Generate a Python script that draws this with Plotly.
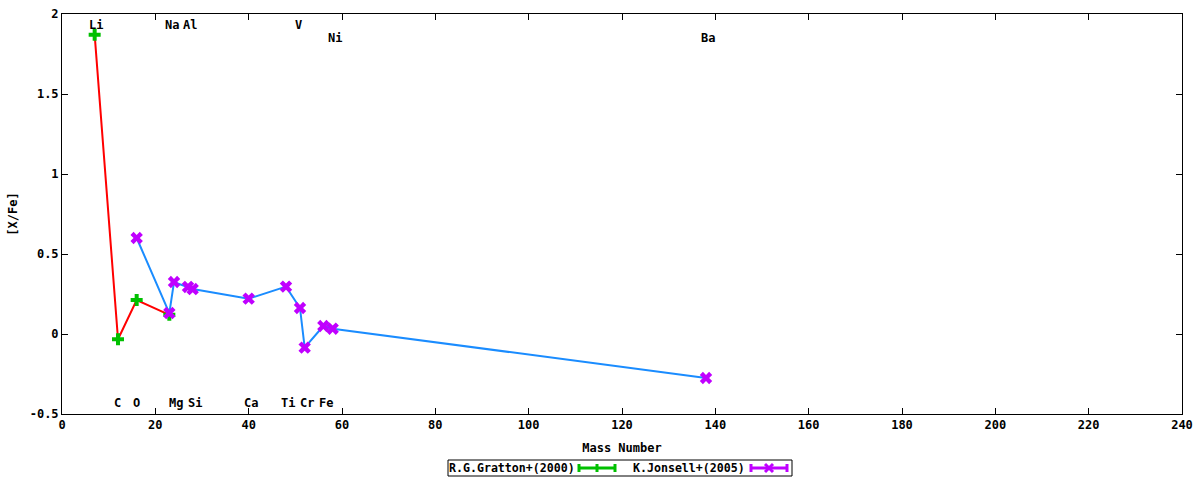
import plotly.graph_objects as go

# Gratton et al. (2000)
gratton_mass = [7, 12, 16, 23]
gratton_xfe = [1.87, -0.033, 0.212, 0.12]

# Jonsell et al. (2005)
jonsell_mass = [16, 23, 24, 27, 28, 40, 48, 51, 52, 56, 58, 138]
jonsell_xfe = [0.60, 0.131, 0.325, 0.294, 0.281, 0.221, 0.296, 0.1625, -0.085, 0.05, 0.033, -0.275]

# element labels
elem_names = ["Li", "Na", "Al", "V", "Ni", "Ba", "C", "O", "Mg", "Si", "Ca", "Ti", "Cr", "Fe"]
elem_x = [7.3, 23.6, 27.4, 50.6, 58.5, 138.4, 11.8, 15.9, 24.4, 28.5, 40.5, 48.4, 52.5, 56.6]
elem_y = [1.93, 1.93, 1.93, 1.93, 1.85, 1.85, -0.43, -0.43, -0.43, -0.43, -0.43, -0.43, -0.43, -0.43]

x_ticks = [0, 20, 40, 60, 80, 100, 120, 140, 160, 180, 200, 220, 240]
y_ticks = [-0.5, 0, 0.5, 1, 1.5, 2]
y_tick_text = ["-0.5", "0", "0.5", "1", "1.5", "2"]

FONT = "DejaVu Sans Mono"
FS = 12
LFS = 11.6
GREEN = "#00c000"
PURPLE = "#c000ff"
RED = "#ff0000"
BLUE = "#1a8cff"

fig = go.Figure()
fig.add_trace(go.Scatter(x=gratton_mass, y=gratton_xfe, mode="lines",
                         line=dict(color=RED, width=2), showlegend=False, hoverinfo="skip"))
fig.add_trace(go.Scatter(x=gratton_mass, y=gratton_xfe, mode="markers", name="R.G.Gratton+(2000)",
                         marker=dict(symbol="cross", size=10, color=GREEN, line=dict(width=0)),
                         showlegend=False))
fig.add_trace(go.Scatter(x=jonsell_mass, y=jonsell_xfe, mode="lines",
                         line=dict(color=BLUE, width=2), showlegend=False, hoverinfo="skip"))
fig.add_trace(go.Scatter(x=jonsell_mass, y=jonsell_xfe, mode="markers", name="K.Jonsell+(2005)",
                         marker=dict(symbol="x", size=11, color=PURPLE, line=dict(width=0)),
                         showlegend=False))

for n, x, y in zip(elem_names, elem_x, elem_y):
    fig.add_annotation(x=x, y=y, text="<b>%s</b>" % n, showarrow=False, xref="x", yref="y",
                       font=dict(family=FONT, size=FS, color="black"))

# custom gnuplot-style legend (paper coordinates)
L, R, T, B = 62, 1182, 14, 414
def px(xp):
    return (xp - L) / (R - L)
def py(yp):
    return (B - yp) / (B - T)

fig.add_shape(type="rect", xref="paper", yref="paper", x0=px(448), x1=px(792), y0=py(460), y1=py(476),
              line=dict(color="black", width=1), fillcolor="white")
fig.add_annotation(xref="paper", yref="paper", x=px(447), y=py(468), xanchor="left", yanchor="middle",
                   text="<b>R.G.Gratton+(2000)</b>", showarrow=False,
                   font=dict(family=FONT, size=LFS, color="black"))
fig.add_annotation(xref="paper", yref="paper", x=px(631), y=py(468), xanchor="left", yanchor="middle",
                   text="<b>K.Jonsell+(2005)</b>", showarrow=False,
                   font=dict(family=FONT, size=LFS, color="black"))

def sample(x0, x1, color, kind):
    yc = py(468)
    dy = 4 / (B - T)
    fig.add_shape(type="line", xref="paper", yref="paper", x0=px(x0), x1=px(x1), y0=yc, y1=yc,
                  line=dict(color=color, width=3))
    for xe in (x0, x1):
        fig.add_shape(type="line", xref="paper", yref="paper", x0=px(xe), x1=px(xe), y0=yc - dy, y1=yc + dy,
                      line=dict(color=color, width=3))
    xc = (x0 + x1) / 2
    if kind == "plus":
        fig.add_shape(type="line", xref="paper", yref="paper", x0=px(xc), x1=px(xc), y0=yc - dy, y1=yc + dy,
                      line=dict(color=color, width=3))
    else:
        d = 4
        fig.add_shape(type="line", xref="paper", yref="paper", x0=px(xc - d), x1=px(xc + d),
                      y0=yc - dy, y1=yc + dy, line=dict(color=color, width=3))
        fig.add_shape(type="line", xref="paper", yref="paper", x0=px(xc - d), x1=px(xc + d),
                      y0=yc + dy, y1=yc - dy, line=dict(color=color, width=3))

sample(579, 615, GREEN, "plus")
sample(751, 787, PURPLE, "x")

axis_common = dict(showline=True, linecolor="black", linewidth=1, mirror="ticks", ticks="inside",
                   ticklen=6, tickcolor="black", showgrid=False, zeroline=False, automargin=False,
                   tickfont=dict(family=FONT, size=FS, color="black"))

fig.update_layout(
    width=1200, height=480,
    margin=dict(l=62, r=18, t=14, b=66, autoexpand=False),
    paper_bgcolor="white", plot_bgcolor="white",
    showlegend=False,
    xaxis=dict(range=[0, 240], tickvals=x_ticks, ticktext=["<b>%d</b>" % v for v in x_ticks],
               title=dict(text="<b>Mass Number</b>", font=dict(family=FONT, size=FS, color="black"), standoff=12),
               **axis_common),
    yaxis=dict(range=[-0.5, 2], tickvals=y_ticks, ticktext=["<b>%s</b>" % t for t in y_tick_text],
               title=dict(text="<b>[X/Fe]</b>", font=dict(family=FONT, size=FS, color="black"), standoff=9),
               **axis_common),
)

fig.write_html("out.html", config={"displayModeBar": False},
               post_script="document.body.style.margin='0';")
